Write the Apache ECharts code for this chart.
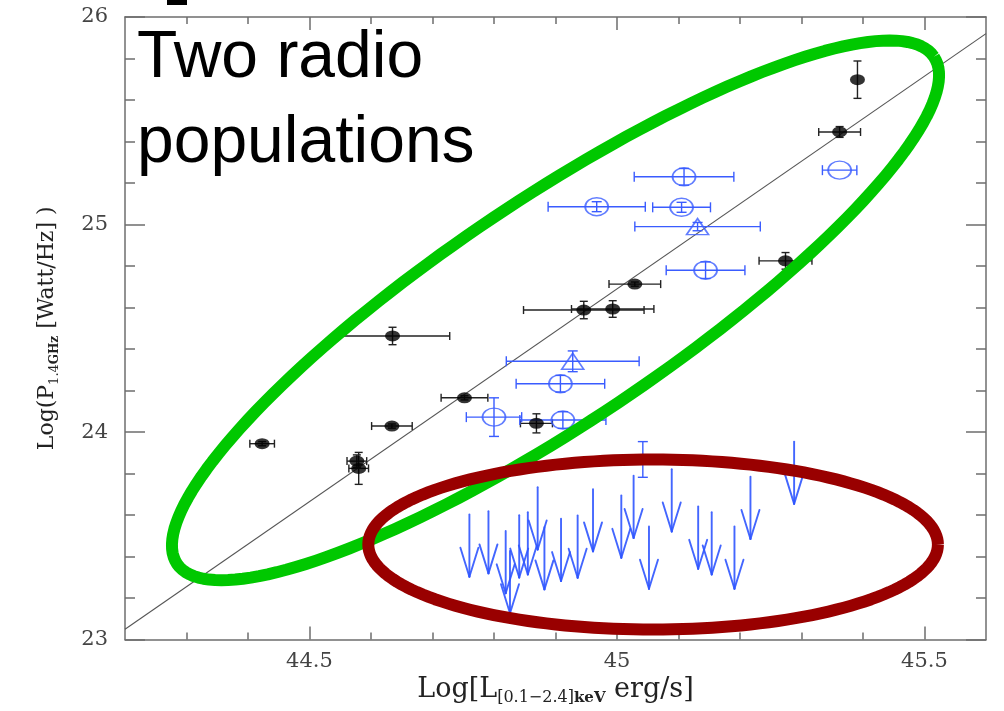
<!DOCTYPE html>
<html><head><meta charset="utf-8">
<script src="https://cdn.jsdelivr.net/npm/echarts@6/dist/echarts.min.js"></script>
<style>html,body{margin:0;padding:0;background:#fff}#c{width:1004px;height:711px}</style>
</head><body><div id="c"></div>
<script>
// ---- tick values ----
const xMajorTicks = [44.5, 45, 45.5];
const xMinorTicks = [44.3, 44.4, 44.6, 44.7, 44.8, 44.9, 45.1, 45.2, 45.3, 45.4];
const yMajorTicks = [23, 24, 25, 26];
const yMinorTicks = [23.2, 23.4, 23.6, 23.8, 24.2, 24.4, 24.6, 24.8, 25.2, 25.4, 25.6, 25.8];

// ---- data: [logLx, logP, xerr, yerr] ----
const blackPoints = [
  [44.423, 23.944, 0.020, 0.010],
  [44.577, 23.860, 0.016, 0.030],
  [44.580, 23.825, 0.016, 0.077],
  [44.634, 24.029, 0.033, 0.010],
  [44.635, 24.463, 0.093, 0.042],
  [44.752, 24.165, 0.038, 0.010],
  [44.869, 24.042, 0.026, 0.046],
  [44.946, 24.588, 0.098, 0.042],
  [44.993, 24.593, 0.067, 0.040],
  [45.029, 24.713, 0.042, 0.010],
  [45.274, 24.825, 0.043, 0.040],
  [45.362, 25.446, 0.034, 0.026],
  [45.391, 25.698, 0.000, 0.090]
];
const blueCircles = [
  [44.800, 24.072, 0.045, 0.093],
  [44.912, 24.058, 0.070, 0.040],
  [44.908, 24.233, 0.072, 0.040],
  [44.967, 25.086, 0.079, 0.024],
  [45.105, 25.083, 0.047, 0.024],
  [45.109, 25.230, 0.081, 0.040],
  [45.144, 24.780, 0.064, 0.040],
  [45.362, 25.262, 0.028, 0.000]
];
const blueTriangles = [
  [44.928, 24.341, 0.108, 0.050],
  [45.131, 24.990, 0.102, 0.020]
];
const blueBars = [
  [45.042, 23.868, 0.000, 0.086]
];
// upper limits [logLx, logP limit]
const upperLimits = [
  [44.760, 23.603], [44.791, 23.619], [44.819, 23.523], [44.826, 23.427],
  [44.841, 23.599], [44.855, 23.614], [44.871, 23.734], [44.882, 23.542],
  [44.909, 23.582], [44.936, 23.598], [44.961, 23.725], [45.007, 23.694],
  [45.027, 23.790], [45.052, 23.545], [45.089, 23.821], [45.132, 23.641],
  [45.154, 23.614], [45.191, 23.545], [45.217, 23.785], [45.288, 23.954]
];
const arrowLength = 0.3;
const fitLine = [[44.2, 23.05], [45.6, 25.92]];
// annotation ellipses (data units): centre and two conjugate semi-axis vectors
const greenCenter = [44.900, 24.5865];
const greenAxisA = [0.6153, 1.2219];
const greenAxisB = [0.1019, -0.4449];
const redCenter = [45.0587, 23.458];
const redAxisA = [0.4631, 0];
const redAxisB = [0, 0.4097];

const serif = '"DejaVu Serif", "Liberation Serif", serif';
const axisGray = '#6e6e6e';
const BLUE = '#3a5cff';
const ARROW_BLUE = '#2f55ff';

function errRender(color, cap) {
  return function (params, api) {
    const x = api.value(0), y = api.value(1), ex = api.value(2), ey = api.value(3);
    const st = { stroke: color, lineWidth: 1.4, fill: 'none' };
    const ch = [];
    const L = (x1, y1, x2, y2) => ch.push({ type: 'line', shape: { x1, y1, x2, y2 }, style: st });
    if (ex > 0) {
      const a = api.coord([x - ex, y]), b = api.coord([x + ex, y]);
      L(a[0], a[1], b[0], b[1]);
      L(a[0], a[1] - cap, a[0], a[1] + cap);
      L(b[0], b[1] - cap, b[0], b[1] + cap);
    }
    if (ey > 0) {
      const a = api.coord([x, y - ey]), b = api.coord([x, y + ey]);
      L(a[0], a[1], b[0], b[1]);
      L(a[0] - cap, a[1], a[0] + cap, a[1]);
      L(b[0] - cap, b[1], b[0] + cap, b[1]);
    }
    return { type: 'group', children: ch };
  };
}

function arrowRender(params, api) {
  const x = api.value(0), y = api.value(1);
  const p = api.coord([x, y]), t = api.coord([x, y - arrowLength]);
  const st = { stroke: ARROW_BLUE, lineWidth: 1.9, opacity: 0.9, fill: 'none', lineCap: 'round' };
  return { type: 'group', children: [
    { type: 'line', shape: { x1: p[0], y1: p[1], x2: t[0], y2: t[1] }, style: st },
    { type: 'line', shape: { x1: t[0] - 9, y1: t[1] - 29, x2: t[0], y2: t[1] }, style: st },
    { type: 'line', shape: { x1: t[0] + 9, y1: t[1] - 29, x2: t[0], y2: t[1] }, style: st }
  ]};
}

function ellipseRender(center, A, B, color) {
  return function (params, api) {
    const pts = [];
    for (let i = 0; i <= 180; i++) {
      const t = i / 180 * Math.PI * 2;
      pts.push(api.coord([center[0] + A[0] * Math.cos(t) + B[0] * Math.sin(t),
                          center[1] + A[1] * Math.cos(t) + B[1] * Math.sin(t)]));
    }
    return { type: 'polyline', shape: { points: pts }, style: { stroke: color, lineWidth: 12, fill: 'none', lineJoin: 'round' } };
  };
}

const xAxisBase = { type: 'value', min: 44.2, max: 45.6, gridIndex: 0, splitLine: { show: false } };
const yAxisBase = { type: 'value', min: 23, max: 26, gridIndex: 0, splitLine: { show: false } };
const lineStyle = { color: axisGray, width: 1.5 };

const option = {
  animation: false,
  backgroundColor: '#fff',
  grid: { left: 125, top: 17, width: 861, height: 626, containLabel: false },
  xAxis: [
    Object.assign({}, xAxisBase, {
      position: 'bottom',
      axisLine: { show: true, lineStyle },
      axisTick: { show: true, inside: true, length: 13, customValues: xMajorTicks, lineStyle },
      axisLabel: { show: true, customValues: xMajorTicks, formatter: v => String(v), color: '#444', fontFamily: serif, fontSize: 21, margin: 11 },
      name: '{n|Log[L}{s|[0.1−2.4]}{b|keV}{n| erg/s]}',
      nameLocation: 'middle', nameGap: 33,
      nameTextStyle: { rich: {
        n: { fontFamily: serif, fontSize: 27, color: '#222', lineHeight: 32, verticalAlign: 'middle' },
        s: { fontFamily: serif, fontSize: 16, color: '#222', lineHeight: 15, verticalAlign: 'bottom' },
        b: { fontFamily: serif, fontSize: 15, fontWeight: 'bold', color: '#222', lineHeight: 15, verticalAlign: 'bottom' }
      } }
    }),
    Object.assign({}, xAxisBase, {
      position: 'bottom', axisLine: { show: false },
      axisTick: { show: true, inside: true, length: 7, customValues: xMinorTicks, lineStyle },
      axisLabel: { show: false }
    }),
    Object.assign({}, xAxisBase, {
      position: 'top', axisLine: { show: true, lineStyle },
      axisTick: { show: true, inside: true, length: 13, customValues: xMajorTicks, lineStyle },
      axisLabel: { show: false }
    }),
    Object.assign({}, xAxisBase, {
      position: 'top', axisLine: { show: false },
      axisTick: { show: true, inside: true, length: 7, customValues: xMinorTicks, lineStyle },
      axisLabel: { show: false }
    })
  ],
  yAxis: [
    Object.assign({}, yAxisBase, {
      position: 'left',
      axisLine: { show: true, lineStyle },
      axisTick: { show: true, inside: true, length: 20, customValues: yMajorTicks, lineStyle },
      axisLabel: { show: true, customValues: yMajorTicks, formatter: v => String(v), color: '#444', fontFamily: serif, fontSize: 21, margin: 17, showMinLabel: true, showMaxLabel: true },
      name: '{n|Log(P}{s|1.4}{b|GHz}{n| [Watt/Hz] )}',
      nameLocation: 'middle', nameGap: 64, nameRotate: 90,
      nameTextStyle: { rich: {
        n: { fontFamily: serif, fontSize: 22, color: '#222', lineHeight: 28, verticalAlign: 'middle' },
        s: { fontFamily: serif, fontSize: 13, color: '#222', lineHeight: 13, verticalAlign: 'bottom' },
        b: { fontFamily: serif, fontSize: 12, fontWeight: 'bold', color: '#222', lineHeight: 13, verticalAlign: 'bottom' }
      } }
    }),
    Object.assign({}, yAxisBase, {
      position: 'left', axisLine: { show: false },
      axisTick: { show: true, inside: true, length: 10, customValues: yMinorTicks, lineStyle },
      axisLabel: { show: false }
    }),
    Object.assign({}, yAxisBase, {
      position: 'right', axisLine: { show: true, lineStyle },
      axisTick: { show: true, inside: true, length: 20, customValues: yMajorTicks, lineStyle },
      axisLabel: { show: false }
    }),
    Object.assign({}, yAxisBase, {
      position: 'right', axisLine: { show: false },
      axisTick: { show: true, inside: true, length: 10, customValues: yMinorTicks, lineStyle },
      axisLabel: { show: false }
    })
  ],
  series: [
    { type: 'line', data: fitLine, symbol: 'none', lineStyle: { color: '#555', width: 1.1 }, silent: true, z: 2 },
    { type: 'custom', data: blackPoints, renderItem: errRender('#222', 4), encode: { x: 0, y: 1 }, z: 3, clip: false },
    { type: 'scatter', data: blackPoints.map(p => [p[0], p[1]]), symbol: 'circle', symbolSize: [15, 11], itemStyle: { color: '#000' }, z: 4 },
    { type: 'custom', data: blueCircles.concat(blueTriangles, blueBars), renderItem: errRender(BLUE, 5), encode: { x: 0, y: 1 }, z: 3, clip: false },
    { type: 'scatter', data: blueCircles.map(p => [p[0], p[1]]), symbol: 'circle', symbolSize: [23, 18], itemStyle: { color: 'rgba(0,0,0,0)', borderColor: BLUE, borderWidth: 1.6 }, z: 4 },
    { type: 'scatter', data: blueTriangles.map(p => [p[0], p[1]]), symbol: 'triangle', symbolSize: [22, 16], itemStyle: { color: 'rgba(0,0,0,0)', borderColor: BLUE, borderWidth: 1.6 }, z: 4 },
    { type: 'custom', data: upperLimits, renderItem: arrowRender, encode: { x: 0, y: 1 }, z: 4, clip: false },
    { type: 'custom', data: [greenCenter], renderItem: ellipseRender(greenCenter, greenAxisA, greenAxisB, '#00c800'), encode: { x: 0, y: 1 }, z: 5, clip: false },
    { type: 'custom', data: [redCenter], renderItem: ellipseRender(redCenter, redAxisA, redAxisB, '#990000'), encode: { x: 0, y: 1 }, z: 6, clip: false }
  ],
  graphic: [
    { type: 'rect', left: 167, top: 0, shape: { width: 20, height: 5 }, style: { fill: '#000' }, z: 100 },
    { type: 'text', left: 137, top: 16, z: 100,
      style: { text: 'Two radio\npopulations', fontFamily: '"Liberation Sans", Arial, sans-serif', fontSize: 66, lineHeight: 85, fill: '#000' } }
  ]
};

const chart = echarts.init(document.getElementById('c'), null, { renderer: 'canvas' });
chart.setOption(option);
</script>
</body></html>
